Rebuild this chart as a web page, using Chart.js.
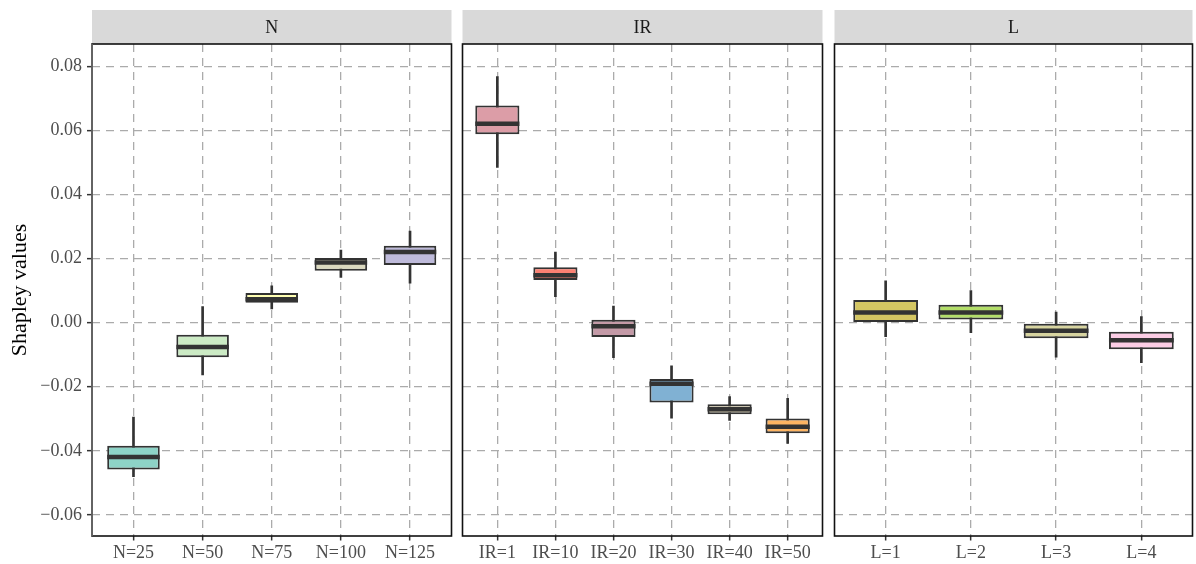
<!DOCTYPE html>
<html>
<head>
<meta charset="utf-8">
<title>Shapley values by N, IR and L</title>
<script src="https://cdn.jsdelivr.net/npm/chart.js@4.4.1/dist/chart.umd.min.js"></script>
<style>
  html, body { margin: 0; padding: 0; background: #ffffff; }
  #wrap { position: relative; width: 1196px; height: 564px; overflow: hidden; }
  #wrap canvas { position: absolute; left: 0; top: 0; }
</style>
</head>
<body>
<div id="wrap">
  <canvas id="panelN" width="1196" height="564"></canvas>
  <canvas id="panelIR" width="1196" height="564"></canvas>
  <canvas id="panelL" width="1196" height="564"></canvas>
</div>
<script>
// ---- Facet N ----
const nLabels = ['N=25', 'N=50', 'N=75', 'N=100', 'N=125'];
const nLow    = [-0.0481, -0.0163, 0.0043, 0.0141, 0.0123];
const nQ1     = [-0.0458, -0.0108, 0.0062, 0.0162, 0.0180];
const nMedian = [-0.0419, -0.0076, 0.0073, 0.0188, 0.0221];
const nQ3     = [-0.0384, -0.0038, 0.0093, 0.0202, 0.0240];
const nHigh   = [-0.0295,  0.0050, 0.0115, 0.0227, 0.0286];
const nColors = ['#8DD3C7', '#CCEBC5', '#FFFFB3', '#DAD8BE', '#BEBADA'];

// ---- Facet IR ----
const irLabels = ['IR=1', 'IR=10', 'IR=20', 'IR=30', 'IR=40', 'IR=50'];
const irLow    = [0.0485, 0.0081, -0.0109, -0.0298, -0.0305, -0.0377];
const irQ1     = [0.0588, 0.0133, -0.0045, -0.0249, -0.0286, -0.0345];
const irMedian = [0.0621, 0.0148, -0.0011, -0.0191, -0.0270, -0.0325];
const irQ3     = [0.0678, 0.0173,  0.0009, -0.0176, -0.0255, -0.0299];
const irHigh   = [0.0768, 0.0220,  0.0052, -0.0135, -0.0231, -0.0236];
const irColors = ['#DC9DA7', '#FB8072', '#C49AA7', '#80B1D3', '#CBC3A8', '#FDB462'];

// ---- Facet L ----
const lLabels = ['L=1', 'L=2', 'L=3', 'L=4'];
const lLow    = [-0.0044, -0.0031, -0.0108, -0.0125];
const lQ1     = [ 0.0000,  0.0010, -0.0049, -0.0083];
const lMedian = [ 0.0032,  0.0032, -0.0025, -0.0055];
const lQ3     = [ 0.0071,  0.0056, -0.0003, -0.0028];
const lHigh   = [ 0.0131,  0.0100,  0.0033,  0.0019];
const lColors = ['#D4C662', '#B3DE69', '#D7D4A0', '#FCCDE5'];

// ---- Shared value axis ----
const yTickValues = [-0.06, -0.04, -0.02, 0.00, 0.02, 0.04, 0.06, 0.08];
const Y_MIN = -0.0666;
const Y_MAX = 0.0870;
const yTitle = 'Shapley values';

const FONT = 'Liberation Serif';
const W = 1196, H = 564;
const STRIP_TOP = 10;
const PANEL_TOP = 44;
const PANEL_BOTTOM = 536;

Chart.defaults.font.family = FONT;
Chart.defaults.devicePixelRatio = 1;

function fmtTick(v) {
  const s = Math.abs(v).toFixed(2);
  return (v < -1e-9 ? '\u2212' : '') + s;
}

// Strip header, medians and panel frame
const facetPlugin = {
  id: 'facet',
  beforeDraw(chart, args, opts) {
    const { ctx, chartArea: a } = chart;
    ctx.save();
    ctx.fillStyle = '#d9d9d9';
    ctx.fillRect(a.left, STRIP_TOP, a.right - a.left, a.top - STRIP_TOP);
    ctx.fillStyle = '#1a1a1a';
    ctx.font = '18px "' + FONT + '"';
    ctx.textAlign = 'center';
    ctx.textBaseline = 'middle';
    ctx.fillText(opts.label, (a.left + a.right) / 2, (STRIP_TOP + a.top) / 2 + 1);
    ctx.restore();
  },
  afterDatasetsDraw(chart, args, opts) {
    const { ctx, chartArea: a } = chart;
    const yScale = chart.scales.y;
    const meta = chart.getDatasetMeta(0);
    ctx.save();
    ctx.strokeStyle = '#333333';
    ctx.lineWidth = 4.5;
    ctx.lineCap = 'butt';
    meta.data.forEach((bar, i) => {
      const { x, width } = bar.getProps(['x', 'width'], true);
      const py = yScale.getPixelForValue(opts.medians[i]);
      ctx.beginPath();
      ctx.moveTo(x - width / 2, py);
      ctx.lineTo(x + width / 2, py);
      ctx.stroke();
    });
    ctx.strokeStyle = '#111111';
    ctx.lineWidth = 1.6;
    ctx.strokeRect(a.left, a.top, a.right - a.left, a.bottom - a.top);
    if (opts.axisLine) {
      ctx.strokeStyle = '#6e6e6e';
      ctx.beginPath();
      ctx.moveTo(a.left, a.top);
      ctx.lineTo(a.left, a.bottom);
      ctx.stroke();
    }
    ctx.restore();
  }
};

function makePanel(canvasId, cfg) {
  const idx = cfg.labels.map((_, i) => i);
  const n = cfg.labels.length;
  const gridCommon = {
    color: '#ababab',
    lineWidth: 1.3,
    tickColor: '#333333',
    tickWidth: 1.5,
    tickBorderDash: [],
    offset: false
  };
  return new Chart(document.getElementById(canvasId), {
    type: 'bar',
    data: {
      datasets: [
        {
          label: 'box',
          data: idx.map(i => ({ x: i, y: [cfg.q1[i], cfg.q3[i]] })),
          backgroundColor: cfg.colors,
          borderColor: '#333333',
          borderWidth: 2,
          borderSkipped: false,
          grouped: false,
          barPercentage: 0.76,
          categoryPercentage: 1,
          order: 0
        },
        {
          label: 'whisker',
          data: idx.map(i => ({ x: i, y: [cfg.low[i], cfg.high[i]] })),
          backgroundColor: '#333333',
          borderWidth: 0,
          barThickness: 2,
          grouped: false,
          order: 1
        }
      ]
    },
    options: {
      responsive: false,
      animation: false,
      events: [],
      layout: { padding: { left: cfg.left, right: W - cfg.right, top: PANEL_TOP, bottom: 0 } },
      plugins: {
        legend: { display: false },
        tooltip: { enabled: false },
        facet: { label: cfg.facet, medians: cfg.median, axisLine: cfg.first }
      },
      scales: {
        x: {
          type: 'linear',
          min: -0.6,
          max: n - 0.4,
          bounds: 'data',
          offset: false,
          afterBuildTicks: s => { s.ticks = idx.map(v => ({ value: v })); },
          afterFit: s => { s.height = H - PANEL_BOTTOM; },
          grid: Object.assign({ drawTicks: true, tickLength: 4.5 }, gridCommon),
          border: { display: false, dash: [8, 6] },
          ticks: {
            autoSkip: false,
            maxRotation: 0,
            padding: 2,
            color: '#4d4d4d',
            font: { family: FONT, size: 18 },
            callback: v => cfg.labels[Math.round(v)]
          }
        },
        y: {
          type: 'linear',
          min: Y_MIN,
          max: Y_MAX,
          bounds: 'data',
          afterBuildTicks: s => { s.ticks = yTickValues.map(v => ({ value: v })); },
          afterFit: s => { s.width = cfg.first ? cfg.left0 : 0; },
          grid: Object.assign({ drawTicks: cfg.first, tickLength: 5 }, gridCommon),
          border: { display: false, dash: [8, 6] },
          title: {
            display: cfg.first,
            text: yTitle,
            color: '#000000',
            font: { family: FONT, size: 22 },
            padding: { top: 7, bottom: 0 }
          },
          ticks: {
            display: cfg.first,
            padding: 5,
            color: '#4d4d4d',
            font: { family: FONT, size: 18 },
            callback: v => fmtTick(v)
          }
        }
      }
    },
    plugins: [facetPlugin]
  });
}

makePanel('panelN', {
  facet: 'N', labels: nLabels, low: nLow, q1: nQ1, median: nMedian, q3: nQ3, high: nHigh,
  colors: nColors, first: true, left: 0, left0: 92, right: 451.5
});
makePanel('panelIR', {
  facet: 'IR', labels: irLabels, low: irLow, q1: irQ1, median: irMedian, q3: irQ3, high: irHigh,
  colors: irColors, first: false, left: 462.5, right: 822.5
});
makePanel('panelL', {
  facet: 'L', labels: lLabels, low: lLow, q1: lQ1, median: lMedian, q3: lQ3, high: lHigh,
  colors: lColors, first: false, left: 834.5, right: 1192.5
});
</script>
</body>
</html>
